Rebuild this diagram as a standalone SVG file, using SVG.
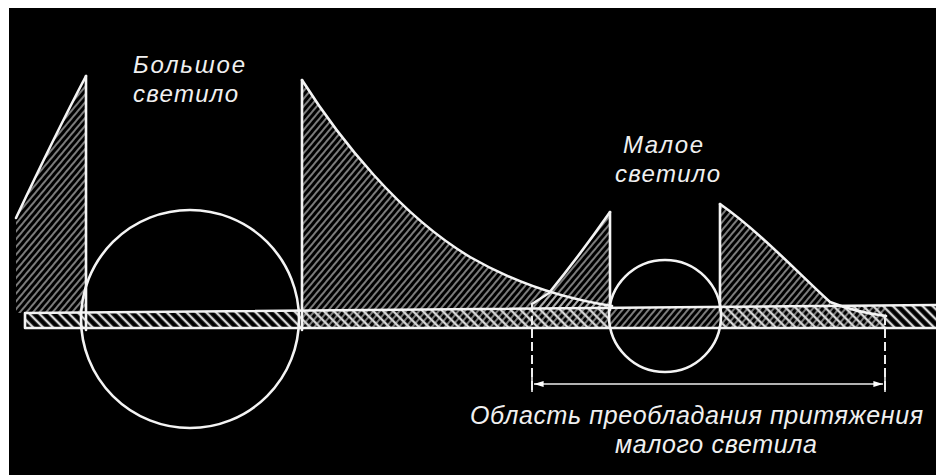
<svg xmlns="http://www.w3.org/2000/svg" width="936" height="475" viewBox="0 0 936 475">
  <defs>
    <pattern id="hatchF" patternUnits="userSpaceOnUse" width="5" height="5" patternTransform="rotate(40)">
      <line x1="1" y1="0" x2="1" y2="5" stroke="#cfcfcf" stroke-width="1.2"/>
    </pattern>
    <pattern id="hatchB" patternUnits="userSpaceOnUse" width="7" height="7" patternTransform="rotate(-45)">
      <line x1="2" y1="0" x2="2" y2="7" stroke="#d8d8d8" stroke-width="2.4"/>
    </pattern>
    <marker id="arr" viewBox="0 0 10 10" refX="10" refY="5" markerWidth="6" markerHeight="6" orient="auto-start-reverse" markerUnits="strokeWidth">
      <path d="M0,2 L10,5 L0,8 Z" fill="#fff"/>
    </marker>
  </defs>
  <style>
    .ln { fill: none; stroke: #f4f4f4; stroke-width: 2.6; stroke-linecap: round; stroke-linejoin: round; }
    .thin { fill: none; stroke: #eee; stroke-width: 1.6; }
    .dash { fill: none; stroke: #eee; stroke-width: 2; stroke-dasharray: 9 4; }
    .lbl { font-family: "Liberation Sans", Arial, sans-serif; font-style: italic; font-size: 24px; fill: #f0f0f0; }
  </style>

  <rect x="0" y="0" width="936" height="475" fill="#ffffff"/>
  <rect x="9" y="8" width="927" height="467" fill="#000000"/>

  <g id="hatching">
    <path d="M16,218 Q55,135 86,76 L86,313 L16,313 Z" fill="url(#hatchF)"/>
    <path d="M302,80 C340,140 400,215 470,257 C510,280 560,298 612,306 L612,308 L302,311 Z" fill="url(#hatchF)"/>
    <path d="M610,212 L610,308 L532,309 L549,293 Q580,255 610,212 Z" fill="url(#hatchF)"/>
    <path d="M720,204 C760,232 800,275 830,302 L830,306 L720,307 Z" fill="url(#hatchF)"/>
    <path d="M25,313 L610,308 L610,328 L25,328 Z" fill="url(#hatchB)"/>
    <path d="M720,307 L936,305 L936,328 L720,328 Z" fill="url(#hatchB)"/>
    <path d="M302,311 L886,306 L886,328 L302,328 Z" fill="url(#hatchF)"/>
  </g>

  <g id="bar">
    <path class="ln" d="M936,305 L25,313 L25,328 L936,328"/>
  </g>

  <g id="big-body">
    <circle class="ln" cx="190" cy="319" r="109"/>
    <line class="ln" x1="86" y1="76" x2="86" y2="330"/>
    <line class="ln" x1="302" y1="80" x2="302" y2="330"/>
    <path class="ln" d="M86,76 Q55,135 16,218"/>
    <path class="ln" d="M302,80 C340,140 400,215 470,257 C510,280 560,298 612,306"/>
  </g>

  <g id="small-body">
    <circle class="ln" cx="665" cy="316" r="56"/>
    <line class="ln" x1="610" y1="212" x2="610" y2="310"/>
    <line class="ln" x1="720" y1="204" x2="720" y2="310"/>
    <path class="ln" d="M610,212 Q580,255 549,293 L532,304"/>
    <path class="ln" d="M720,204 C760,232 800,275 830,302 C850,310 870,314 886,316"/>
  </g>

  <g id="connectors">
    <line class="dash" x1="532" y1="303" x2="532" y2="392"/>
    <line class="dash" x1="885" y1="316" x2="885" y2="392"/>
    <line class="thin" x1="532" y1="376" x2="532" y2="392"/>
    <line class="thin" x1="885" y1="376" x2="885" y2="392"/>
    <line class="thin" x1="534" y1="384" x2="883" y2="384" marker-start="url(#arr)" marker-end="url(#arr)"/>
  </g>

  <g id="label-big">
    <text class="lbl" x="133" y="73" textLength="112">Большое</text>
    <text class="lbl" x="133" y="102" textLength="105">светило</text>
  </g>
  <g id="label-small">
    <text class="lbl" x="623" y="153" textLength="80">Малое</text>
    <text class="lbl" x="615" y="182" textLength="105">светило</text>
  </g>
  <g id="label-region">
    <text class="lbl" x="470" y="424" textLength="453" style="font-size:25px">Область преобладания притяжения</text>
    <text class="lbl" x="615" y="453" textLength="202" style="font-size:25px">малого светила</text>
  </g>
</svg>
